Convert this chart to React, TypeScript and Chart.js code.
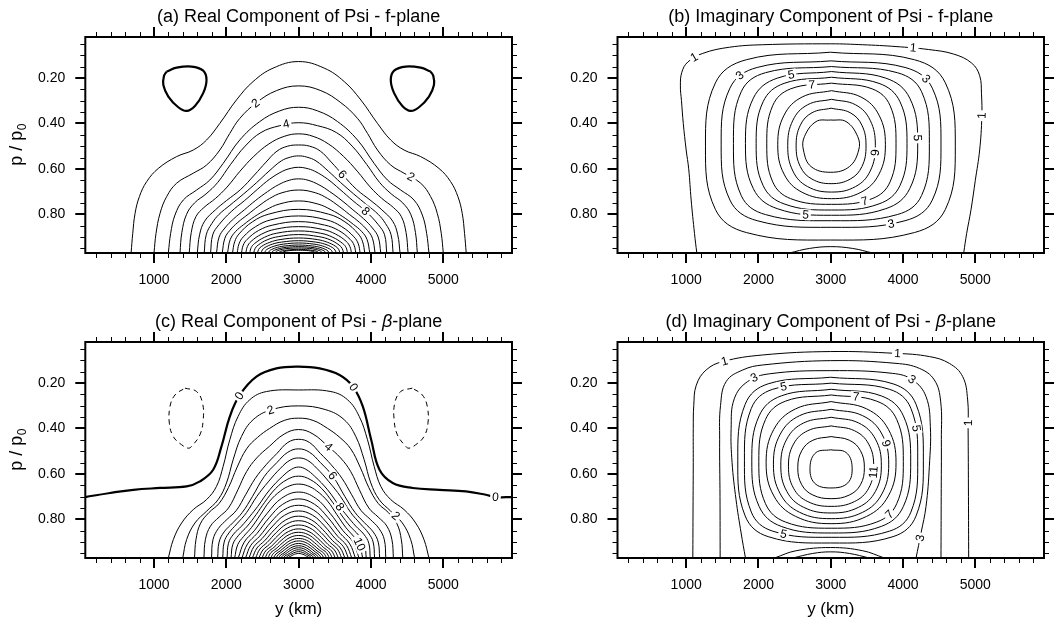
import { useEffect, useRef } from 'react';
import { Chart, registerables } from 'chart.js';

Chart.register(...registerables);

type Pt = [number, number];
type Lbl = [number, number, number];

const FONT = '"Liberation Sans", Arial, Helvetica, sans-serif';

// ---------- axes ----------
const Y_KM_MIN = 50;
const Y_KM_MAX = 5950;
const P_TOP = 0.02;
const P_BOTTOM = 0.97;
const xMajorTicks = [1000, 2000, 3000, 4000, 5000];
const xMinorTicks = [200, 400, 600, 800, 1200, 1400, 1600, 1800, 2200, 2400, 2600, 2800, 3200, 3400, 3600, 3800, 4200, 4400, 4600, 4800, 5200, 5400, 5600, 5800];
const pMajorTicks = [0.2, 0.4, 0.6, 0.8];
const pMinorTicks = [0.05, 0.1, 0.15, 0.25, 0.3, 0.35, 0.45, 0.5, 0.55, 0.65, 0.7, 0.75, 0.85, 0.9, 0.95];

// ---------- panel (a): real component, f-plane ----------
const a0Left: Pt[] = [[1175,.172],[1313,.155],[1520,.150],[1680,.168],[1726,.209],[1680,.267],[1566,.323],[1451,.345],[1336,.329],[1198,.282],[1129,.231],[1138,.191],[1175,.172]];
const a0Right: Pt[] = [[4825,.172],[4687,.155],[4480,.150],[4320,.168],[4274,.209],[4320,.267],[4434,.323],[4549,.345],[4664,.329],[4802,.282],[4871,.231],[4862,.191],[4825,.172]];
const aContours: Pt[][] = [
  [[683,.97],[706,.884],[738,.796],[798,.722],[899,.656],[1060,.598],[1313,.546],[1543,.517],[1727,.473],[1910,.400],[2140,.297],[2370,.216],[2646,.157],[3000,.128],[3354,.157],[3630,.216],[3860,.297],[4090,.400],[4273,.473],[4457,.517],[4687,.546],[4940,.598],[5101,.656],[5202,.722],[5262,.796],[5294,.884],[5317,.97]],
  [[1000,.97],[1028,.884],[1083,.796],[1175,.722],[1313,.663],[1543,.619],[1727,.583],[1910,.517],[2048,.444],[2186,.378],[2416,.309],[2692,.256],[3000,.235],[3308,.256],[3584,.309],[3814,.378],[3952,.444],[4090,.517],[4273,.583],[4457,.619],[4687,.663],[4825,.722],[4917,.796],[4972,.884],[5000,.97]],
  [[1198,.97],[1230,.884],[1290,.803],[1405,.737],[1589,.693],[1772,.649],[1956,.576],[2186,.473],[2462,.392],[2738,.345],[3000,.329],[3262,.345],[3538,.392],[3814,.473],[4044,.576],[4228,.649],[4411,.693],[4595,.737],[4710,.803],[4770,.884],[4802,.97]],
  [[1359,.97],[1385,.88],[1450,.80],[1560,.75],[1720,.71],[1880,.66],[2060,.58],[2260,.50],[2480,.44],[2740,.41],[3000,.397],[3260,.41],[3520,.44],[3740,.50],[3940,.58],[4120,.66],[4280,.71],[4440,.75],[4550,.80],[4615,.88],[4641,.97]],
  [[1487,.97],[1515,.88],[1580,.81],[1690,.77],[1850,.73],[2010,.68],[2190,.61],[2380,.545],[2590,.49],[2800,.457],[3000,.446],[3200,.457],[3410,.49],[3620,.545],[3810,.61],[3990,.68],[4150,.73],[4310,.77],[4420,.81],[4485,.88],[4513,.97]],
  [[1598,.97],[1630,.89],[1700,.83],[1850,.78],[2000,.74],[2200,.69],[2388,.627],[2550,.57],[2700,.522],[2850,.50],[3000,.495],[3150,.50],[3300,.522],[3450,.57],[3612,.627],[3800,.69],[4000,.74],[4150,.78],[4300,.83],[4370,.89],[4402,.97]],
  [[1694,.97],[1722,.89],[1800,.84],[1900,.80],[2050,.76],[2240,.71],[2420,.66],[2590,.61],[2760,.565],[2890,.548],[3000,.543],[3110,.548],[3240,.565],[3410,.61],[3580,.66],[3760,.71],[3950,.76],[4100,.80],[4200,.84],[4278,.89],[4306,.97]],
  [[1782,.97],[1812,.89],[1900,.845],[2067,.788],[2250,.74],[2430,.69],[2600,.645],[2780,.61],[2900,.597],[3000,.593],[3100,.597],[3220,.61],[3400,.645],[3570,.69],[3750,.74],[3933,.788],[4100,.845],[4188,.89],[4218,.97]],
  [[1864,.97],[1900,.90],[1980,.86],[2100,.82],[2250,.78],[2400,.74],[2570,.70],[2720,.67],[2870,.65],[3000,.644],[3130,.65],[3280,.67],[3430,.70],[3600,.74],[3750,.78],[3900,.82],[4020,.86],[4100,.90],[4136,.97]],
  [[1943,.97],[1980,.905],[2050,.87],[2160,.835],[2300,.80],[2440,.765],[2600,.73],[2770,.705],[3000,.693],[3230,.705],[3400,.73],[3560,.765],[3700,.80],[3840,.835],[3950,.87],[4020,.905],[4057,.97]],
  [[2016,.97],[2055,.91],[2130,.875],[2240,.845],[2390,.81],[2550,.78],[2730,.755],[3000,.741],[3270,.755],[3450,.78],[3610,.81],[3760,.845],[3870,.875],[3945,.91],[3984,.97]],
  [[2085,.97],[2115,.921],[2176,.886],[2360,.833],[2588,.799],[3000,.778],[3412,.799],[3640,.833],[3824,.886],[3885,.921],[3915,.97]],
  [[2150,.97],[2175,.930],[2235,.899],[2405,.854],[2617,.824],[3000,.807],[3383,.824],[3595,.854],[3765,.899],[3825,.930],[3850,.97]],
  [[2209,.97],[2233,.936],[2288,.910],[2446,.871],[2644,.847],[3000,.832],[3356,.847],[3554,.871],[3712,.910],[3767,.936],[3791,.97]],
  [[2269,.97],[2291,.942],[2342,.919],[2488,.887],[2671,.866],[3000,.854],[3329,.866],[3512,.887],[3658,.919],[3709,.942],[3731,.97]],
  [[2324,.97],[2344,.946],[2392,.928],[2527,.901],[2696,.883],[3000,.873],[3304,.883],[3473,.901],[3608,.928],[3656,.946],[3676,.97]],
  [[2379,.97],[2398,.950],[2441,.935],[2565,.912],[2721,.898],[3000,.889],[3279,.898],[3435,.912],[3559,.935],[3602,.950],[3621,.97]],
  [[2430,.97],[2447,.954],[2487,.941],[2601,.923],[2743,.911],[3000,.904],[3257,.911],[3399,.923],[3513,.941],[3553,.954],[3570,.97]],
  [[2481,.97],[2497,.957],[2533,.946],[2637,.931],[2766,.922],[3000,.916],[3234,.922],[3363,.931],[3467,.946],[3503,.957],[3519,.97]],
  [[2531,.97],[2545,.959],[2578,.951],[2672,.939],[2789,.931],[3000,.926],[3211,.931],[3328,.939],[3422,.951],[3455,.959],[3469,.97]],
  [[2582,.97],[2595,.961],[2624,.955],[2707,.945],[2812,.939],[3000,.935],[3188,.939],[3293,.945],[3376,.955],[3405,.961],[3418,.97]],
  [[2628,.97],[2639,.963],[2665,.958],[2740,.950],[2833,.945],[3000,.942],[3167,.945],[3260,.950],[3335,.958],[3361,.963],[3372,.97]],
  [[2674,.97],[2684,.965],[2707,.960],[2772,.954],[2853,.950],[3000,.948],[3147,.950],[3228,.954],[3293,.960],[3316,.965],[3326,.97]],
  [[2720,.97],[2748,.963],[2804,.959],[2874,.956],[3000,.954],[3126,.956],[3196,.959],[3252,.963],[3280,.97]],
  [[2766,.97],[2789,.965],[2836,.961],[2895,.959],[3000,.958],[3105,.959],[3164,.961],[3211,.965],[3234,.97]],
];
const aContourLevels = [1, 2, 3, 4, 5, 6, 7, 8, 9, 10, 11, 12, 13, 14, 15, 16, 17, 18, 19, 20, 21, 22, 23, 24, 25];
const aLabels: Lbl[] = [[2,2416,.319],[4,2830,.397],[6,3612,.627],[8,3933,.788],[2,4531,.649]];

// ---------- panel (b): imaginary component, f-plane ----------
const bContours: Pt[][] = [
  [[1147,.97],[1115,.884],[1069,.737],[1035,.60],[1000,.517],[960,.40],[935,.30],[920,.235],[940,.175],[1023,.130],[1230,.092],[1599,.065],[2060,.054],[3000,.050],[3442,.054],[3903,.062],[4350,.075],[4700,.095],[4950,.135],[5060,.190],[5085,.27],[5090,.37],[5060,.517],[5000,.65],[4940,.78],[4880,.884],[4839,.97]],
  [[2995,.087],[4158,.120],[4586,.222],[4723,.500],[4586,.778],[4158,.880],[2995,.913],[1832,.880],[1404,.778],[1267,.500],[1404,.222],[1832,.120],[2995,.087]],
  [[3005,.125],[4028,.154],[4405,.245],[4525,.491],[4405,.737],[4028,.828],[3005,.857],[1982,.828],[1605,.737],[1484,.491],[1605,.245],[1982,.154],[3005,.125]],
  [[3009,.150],[3921,.177],[4257,.261],[4364,.489],[4257,.717],[3921,.801],[3009,.828],[2097,.801],[1761,.717],[1654,.489],[1761,.261],[2097,.177],[3009,.150]],
  [[3011,.172],[3762,.201],[4093,.289],[4203,.488],[4093,.687],[3762,.775],[3011,.804],[2260,.775],[1929,.687],[1820,.488],[1929,.289],[2260,.201],[3011,.172]],
  [[3011,.197],[3668,.224],[3958,.305],[4055,.489],[3958,.673],[3668,.754],[3011,.781],[2354,.754],[2064,.673],[1968,.489],[2064,.305],[2354,.224],[3011,.197]],
  [[3009,.223],[3572,.248],[3821,.322],[3903,.49],[3821,.657],[3572,.731],[3009,.756],[2446,.731],[2197,.657],[2115,.49],[2197,.322],[2446,.248],[3009,.223]],
  [[3011,.256],[3418,.284],[3668,.364],[3756,.494],[3668,.623],[3418,.703],[3011,.731],[2604,.703],[2354,.623],[2267,.494],[2354,.364],[2604,.284],[3011,.256]],
  [[3011,.294],[3342,.318],[3545,.386],[3617,.498],[3545,.610],[3342,.678],[3011,.702],[2680,.678],[2477,.610],[2405,.498],[2477,.386],[2680,.318],[3011,.294]],
  [[3005,.333],[3269,.353],[3431,.408],[3488,.499],[3431,.590],[3269,.645],[3005,.665],[2741,.645],[2579,.590],[2521,.499],[2579,.408],[2741,.353],[3005,.333]],
  [[3000,.385],[3212,.392],[3373,.458],[3387,.517],[3258,.590],[3000,.615],[2728,.590],[2622,.517],[2636,.458],[2797,.392],[3000,.385]],
  [[2428,.97],[2705,.950],[3000,.942],[3304,.950],[3580,.97]],
];
const bContourLevels = [1, 2, 3, 4, 5, 6, 7, 8, 9, 10, 11, 2];
const bLabels: Lbl[] = [[1,1138,.121],[3,1737,.179],[5,2452,.172],[7,2728,.223],[1,4133,.069],[3,4341,.201],[1,5101,.363],[5,4226,.458],[9,3673,.532],[7,3442,.730],[5,2636,.807],[3,3857,.854]];

// ---------- panel (c): real component, beta-plane ----------
const cZero: Pt[] = [[50,.702],[393,.684],[715,.670],[1083,.662],[1451,.655],[1635,.633],[1818,.582],[1933,.479],[2048,.348],[2186,.253],[2416,.172],[2692,.136],[3000,.128],[3290,.136],[3566,.165],[3750,.216],[3888,.304],[4003,.450],[4118,.582],[4301,.640],[4577,.662],[4945,.670],[5313,.677],[5589,.692],[5727,.702],[5950,.702]];
const cNegLeft: Pt[] = [[1428,.223],[1589,.238],[1671,.289],[1680,.362],[1635,.428],[1520,.479],[1474,.487],[1382,.472],[1267,.436],[1212,.377],[1221,.304],[1290,.253],[1428,.223]];
const cNegRight: Pt[] = [[4572,.223],[4411,.238],[4329,.289],[4320,.362],[4365,.428],[4480,.479],[4526,.487],[4618,.472],[4733,.436],[4788,.377],[4779,.304],[4710,.253],[4572,.223]];
const cContours: Pt[][] = [
  [[1198,.97],[1267,.889],[1382,.816],[1543,.757],[1727,.713],[1864,.655],[1956,.567],[2048,.450],[2163,.347],[2324,.274],[2554,.238],[3000,.231],[3446,.238],[3676,.274],[3837,.347],[3952,.450],[4044,.567],[4136,.655],[4273,.713],[4457,.757],[4618,.816],[4733,.889],[4802,.97]],
  [[1397,.97],[1451,.889],[1566,.816],[1727,.764],[1887,.713],[2002,.640],[2094,.538],[2209,.436],[2370,.362],[2623,.318],[3000,.301],[3377,.318],[3630,.362],[3791,.436],[3906,.538],[3998,.640],[4113,.713],[4273,.764],[4434,.816],[4549,.889],[4603,.97]],
  [[1560,.97],[1580,.89],[1640,.82],[1760,.77],[1900,.73],[2030,.66],[2150,.57],[2280,.49],[2430,.44],[2600,.40],[2800,.365],[3000,.355],[3200,.365],[3400,.40],[3570,.44],[3720,.49],[3850,.57],[3970,.66],[4100,.73],[4240,.77],[4360,.82],[4420,.89],[4440,.97]],
  [[1690,.97],[1710,.89],[1780,.83],[1900,.79],[2030,.75],[2160,.67],[2280,.59],[2420,.53],[2595,.479],[2800,.425],[3000,.405],[3200,.425],[3405,.479],[3580,.53],[3720,.59],[3840,.67],[3970,.75],[4100,.79],[4220,.83],[4290,.89],[4310,.97]],
  [[1795,.97],[1815,.89],[1890,.84],[2010,.80],[2140,.76],[2270,.69],[2400,.62],[2550,.56],[2700,.51],[2850,.462],[3000,.448],[3150,.462],[3300,.51],[3450,.56],[3600,.62],[3730,.69],[3860,.76],[3990,.80],[4110,.84],[4185,.89],[4205,.97]],
  [[1880,.97],[1900,.90],[1970,.855],[2090,.815],[2220,.77],[2360,.70],[2526,.611],[2700,.55],[2850,.505],[3000,.49],[3150,.505],[3300,.55],[3474,.611],[3640,.70],[3780,.77],[3910,.815],[4030,.855],[4100,.90],[4120,.97]],
  [[1950,.97],[1970,.90],[2035,.86],[2145,.82],[2280,.77],[2420,.70],[2580,.635],[2750,.575],[2880,.54],[3000,.53],[3120,.54],[3250,.575],[3420,.635],[3580,.70],[3720,.77],[3855,.82],[3965,.86],[4030,.90],[4050,.97]],
  [[2010,.97],[2030,.905],[2100,.865],[2210,.83],[2330,.785],[2434,.743],[2600,.67],[2780,.61],[2900,.58],[3000,.57],[3100,.58],[3220,.61],[3400,.67],[3566,.743],[3670,.785],[3790,.83],[3900,.865],[3970,.905],[3990,.97]],
  [[2065,.97],[2090,.91],[2170,.87],[2290,.83],[2410,.78],[2530,.725],[2680,.665],[2840,.625],[3000,.61],[3160,.625],[3320,.665],[3470,.725],[3590,.78],[3710,.83],[3830,.87],[3910,.91],[3935,.97]],
  [[2115,.97],[2158,.911],[2240,.875],[2350,.835],[2470,.78],[2600,.72],[2750,.675],[2880,.652],[3000,.645],[3120,.652],[3250,.675],[3400,.72],[3530,.78],[3650,.835],[3760,.875],[3842,.911],[3885,.97]],
  [[2165,.97],[2248,.900],[2387,.850],[2566,.773],[2765,.707],[3000,.68],[3235,.707],[3434,.773],[3613,.850],[3752,.900],[3835,.97]],
  [[2215,.97],[2293,.908],[2424,.862],[2592,.793],[2779,.734],[3000,.71],[3221,.734],[3408,.793],[3576,.862],[3707,.908],[3785,.97]],
  [[2265,.97],[2339,.914],[2461,.874],[2618,.812],[2793,.759],[3000,.738],[3207,.759],[3382,.812],[3539,.874],[3661,.914],[3735,.97]],
  [[2313,.97],[2382,.920],[2496,.884],[2643,.829],[2806,.782],[3000,.763],[3194,.782],[3357,.829],[3504,.884],[3618,.920],[3687,.97]],
  [[2360,.97],[2424,.926],[2530,.894],[2667,.845],[2820,.803],[3000,.786],[3180,.803],[3333,.845],[3470,.894],[3576,.926],[3640,.97]],
  [[2405,.97],[2464,.931],[2563,.902],[2691,.858],[2832,.821],[3000,.806],[3168,.821],[3309,.858],[3437,.902],[3536,.931],[3595,.97]],
  [[2450,.97],[2505,.935],[2596,.910],[2714,.871],[2845,.838],[3000,.825],[3155,.838],[3286,.871],[3404,.910],[3495,.935],[3550,.97]],
  [[2493,.97],[2544,.939],[2628,.917],[2736,.883],[2857,.854],[3000,.842],[3143,.854],[3264,.883],[3372,.917],[3456,.939],[3507,.97]],
  [[2535,.97],[2581,.943],[2659,.923],[2758,.893],[2869,.867],[3000,.857],[3131,.867],[3242,.893],[3341,.923],[3419,.943],[3465,.97]],
  [[2575,.97],[2617,.946],[2688,.929],[2779,.903],[2880,.880],[3000,.871],[3120,.880],[3221,.903],[3312,.929],[3383,.946],[3425,.97]],
  [[2614,.97],[2653,.949],[2717,.934],[2799,.912],[2891,.892],[3000,.884],[3109,.892],[3201,.912],[3283,.934],[3347,.949],[3386,.97]],
  [[2652,.97],[2687,.952],[2745,.939],[2819,.919],[2902,.902],[3000,.895],[3098,.902],[3181,.919],[3255,.939],[3313,.952],[3348,.97]],
  [[2688,.97],[2719,.955],[2771,.943],[2838,.926],[2912,.912],[3000,.906],[3088,.912],[3162,.926],[3229,.943],[3281,.955],[3312,.97]],
  [[2723,.97],[2751,.957],[2797,.948],[2856,.933],[2922,.921],[3000,.916],[3078,.921],[3144,.933],[3203,.948],[3249,.957],[3277,.97]],
  [[2757,.97],[2781,.959],[2822,.951],[2874,.939],[2931,.929],[3000,.925],[3069,.929],[3126,.939],[3178,.951],[3219,.959],[3243,.97]],
  [[2790,.97],[2811,.961],[2846,.955],[2891,.946],[2941,.937],[3000,.934],[3059,.937],[3109,.946],[3154,.955],[3189,.961],[3210,.97]],
  [[2822,.97],[2840,.963],[2869,.958],[2907,.951],[2950,.945],[3000,.942],[3050,.945],[3093,.951],[3131,.958],[3160,.963],[3178,.97]],
  [[2853,.97],[2868,.965],[2892,.962],[2924,.956],[2959,.952],[3000,.95],[3041,.952],[3076,.956],[3108,.962],[3132,.965],[3147,.97]],
];
const cContourLevels = [1, 2, 3, 4, 5, 6, 7, 8, 9, 10, 11, 12, 13, 14, 15, 16, 17, 18, 19, 20, 21, 22, 23, 24, 25, 26, 27, 28];
const cLabels: Lbl[] = [[0,2186,.253],[0,3727,.223],[0,5727,.699],[2,2623,.333],[4,3405,.479],[6,3474,.611],[8,3566,.743],[10,3842,.911],[2,4301,.801]];

// ---------- panel (d): imaginary component, beta-plane ----------
const dContours: Pt[][] = [
  [[1092,.97],[1095,.75],[1098,.55],[1098,.40],[1105,.30],[1140,.21],[1276,.143],[1507,.106],[2060,.077],[3000,.062],[3903,.070],[4364,.084],[4640,.114],[4825,.172],[4894,.275],[4900,.40],[4905,.70],[4908,.97]],
  [[1470,.97],[1468,.70],[1463,.45],[1475,.30],[1553,.194],[1783,.143],[2060,.121],[3000,.102],[3903,.114],[4226,.136],[4433,.187],[4520,.28],[4530,.45],[4528,.70],[4525,.97]],
  [[1820,.97],[1760,.86],[1690,.714],[1635,.55],[1622,.40],[1665,.27],[1850,.194],[2150,.160],[3000,.146],[3857,.158],[4133,.187],[4318,.260],[4378,.392],[4364,.567],[4318,.743],[4249,.860],[4180,.97]],
  [[2998,.175],[3862,.204],[4180,.294],[4281,.540],[4180,.785],[3862,.876],[2998,.904],[2134,.876],[1816,.785],[1714,.540],[1816,.294],[2134,.204],[2998,.175]],
  [[3005,.201],[3812,.228],[4109,.312],[4203,.540],[4109,.768],[3812,.852],[3005,.879],[2198,.852],[1901,.768],[1806,.540],[1901,.312],[2198,.228],[3005,.201]],
  [[3007,.228],[3699,.257],[4005,.345],[4106,.544],[4005,.743],[3699,.831],[3007,.860],[2315,.831],[2009,.743],[1908,.544],[2009,.345],[2315,.257],[3007,.228]],
  [[3005,.253],[3635,.280],[3913,.361],[4004,.546],[3913,.731],[3635,.812],[3005,.839],[2375,.812],[2097,.731],[2005,.546],[2097,.361],[2375,.280],[3005,.253]],
  [[3005,.282],[3496,.314],[3797,.404],[3903,.551],[3797,.697],[3496,.787],[3005,.819],[2514,.787],[2213,.697],[2106,.551],[2213,.404],[2514,.314],[3005,.282]],
  [[3005,.316],[3441,.344],[3708,.425],[3802,.557],[3708,.688],[3441,.769],[3005,.797],[2569,.769],[2302,.688],[2207,.557],[2302,.425],[2569,.344],[3005,.316]],
  [[3005,.351],[3385,.376],[3618,.447],[3700,.562],[3618,.677],[3385,.747],[3005,.772],[2625,.747],[2392,.677],[2309,.562],[2392,.447],[2625,.376],[3005,.351]],
  [[3005,.389],[3327,.410],[3525,.469],[3594,.566],[3525,.663],[3327,.722],[3005,.743],[2683,.722],[2485,.663],[2415,.566],[2485,.469],[2683,.410],[3005,.389]],
  [[3005,.436],[3257,.452],[3411,.498],[3465,.573],[3411,.648],[3257,.693],[3005,.709],[2753,.693],[2599,.648],[2544,.573],[2599,.498],[2753,.452],[3005,.436]],
  [[3000,.494],[3212,.506],[3295,.567],[3235,.640],[3000,.662],[2774,.640],[2714,.567],[2797,.506],[3000,.494]],
  [[2221,.97],[2521,.938],[3000,.924],[3442,.938],[3742,.97]],
  [[2475,.97],[2751,.950],[3000,.943],[3258,.950],[3534,.97]],
];
const dContourLevels = [1, 2, 3, 4, 5, 6, 7, 8, 9, 10, 11, 12, 13, 4, 3];
const dLabels: Lbl[] = [[1,1530,.106],[1,3926,.077],[1,4908,.377],[3,1945,.180],[3,4133,.187],[5,2359,.209],[7,3350,.253],[5,4203,.399],[9,3788,.465],[11,3604,.596],[7,3788,.772],[5,2336,.874],[3,4272,.882]];

// ---------- layout ----------
const PANEL_W = 529;
const PANEL_H = 312;
const Y_AXIS_W = 70;
const X_AXIS_H = 40;

interface PanelDef {
  key: string;
  left: number;
  top: number;
  area: { l: number; r: number; t: number; b: number };
  title: [string, boolean][];
  lines: Pt[][];
  levels: number[];
  labels: Lbl[];
  yTitle: boolean;
  xTitle: boolean;
}

const panels: PanelDef[] = [
  {
    key: 'a', left: 0, top: 0, area: { l: 85.3, r: 512, t: 37, b: 253 },
    title: [['(a) Real Component of Psi - f-plane', false]],
    lines: [a0Left, a0Right, ...aContours], levels: [0, 0, ...aContourLevels], labels: aLabels,
    yTitle: true, xTitle: false,
  },
  {
    key: 'b', left: 529, top: 0, area: { l: 88.5, r: 515, t: 37, b: 253 },
    title: [['(b) Imaginary Component of Psi - f-plane', false]],
    lines: bContours, levels: bContourLevels, labels: bLabels,
    yTitle: false, xTitle: false,
  },
  {
    key: 'c', left: 0, top: 312, area: { l: 85.3, r: 512, t: 30, b: 246 },
    title: [['(c) Real Component of Psi - ', false], ['\u03B2', true], ['-plane', false]],
    lines: [cZero, cNegLeft, cNegRight, ...cContours], levels: [0, -1, -1, ...cContourLevels], labels: cLabels,
    yTitle: true, xTitle: true,
  },
  {
    key: 'd', left: 529, top: 312, area: { l: 88.5, r: 515, t: 30, b: 246 },
    title: [['(d) Imaginary Component of Psi - ', false], ['\u03B2', true], ['-plane', false]],
    lines: dContours, levels: dContourLevels, labels: dLabels,
    yTitle: false, xTitle: true,
  },
];

function drawLabels(chart: any, def: PanelDef) {
  const ctx: CanvasRenderingContext2D = chart.ctx;
  const xs = chart.scales.x;
  const ys = chart.scales.y;
  ctx.save();
  ctx.font = `12px ${FONT}`;
  ctx.textAlign = 'center';
  ctx.textBaseline = 'middle';
  for (const [v, km, p] of def.labels) {
    const tx = xs.getPixelForValue(km);
    const ty = ys.getPixelForValue(p);
    let best = Infinity;
    let bx = tx;
    let by = ty;
    let ang = 0;
    def.levels.forEach((lv, i) => {
      if (lv !== v) return;
      const pts: any[] = chart.getDatasetMeta(i).data;
      for (let j = 0; j < pts.length - 1; j++) {
        const a = pts[j];
        const b = pts[j + 1];
        const c1x = a.cp2x ?? a.x;
        const c1y = a.cp2y ?? a.y;
        const c2x = b.cp1x ?? b.x;
        const c2y = b.cp1y ?? b.y;
        let px = a.x;
        let py = a.y;
        for (let k = 1; k <= 14; k++) {
          const t = k / 14;
          const u = 1 - t;
          const x = u * u * u * a.x + 3 * u * u * t * c1x + 3 * u * t * t * c2x + t * t * t * b.x;
          const y = u * u * u * a.y + 3 * u * u * t * c1y + 3 * u * t * t * c2y + t * t * t * b.y;
          const mx = (x + px) / 2;
          const my = (y + py) / 2;
          const d = (mx - tx) ** 2 + (my - ty) ** 2;
          if (d < best) {
            best = d;
            bx = mx;
            by = my;
            ang = Math.atan2(y - py, x - px);
          }
          px = x;
          py = y;
        }
      }
    });
    if (ang > Math.PI / 2) ang -= Math.PI;
    if (ang < -Math.PI / 2) ang += Math.PI;
    const txt = String(v);
    const w = ctx.measureText(txt).width;
    ctx.save();
    ctx.translate(bx, by);
    ctx.rotate(ang);
    ctx.fillStyle = '#fff';
    ctx.fillRect(-w / 2 - 2, -5.5, w + 4, 11);
    ctx.fillStyle = '#000';
    ctx.fillText(txt, 0, 0.5);
    ctx.restore();
  }
  ctx.restore();
}

function drawFrame(chart: any, def: PanelDef) {
  const ctx: CanvasRenderingContext2D = chart.ctx;
  const { left, right, top, bottom } = chart.chartArea;
  const xs = chart.scales.x;
  const ys = chart.scales.y;
  const MINOR = 5;
  const MAJOR = 10;
  ctx.save();
  ctx.strokeStyle = '#000';
  ctx.lineWidth = 1;
  ctx.beginPath();
  for (const v of xMinorTicks) {
    const x = Math.round(xs.getPixelForValue(v)) + 0.5;
    ctx.moveTo(x, bottom); ctx.lineTo(x, bottom + MINOR);
    ctx.moveTo(x, top); ctx.lineTo(x, top - MINOR);
  }
  for (const v of pMinorTicks) {
    const y = Math.round(ys.getPixelForValue(v)) + 0.5;
    ctx.moveTo(left, y); ctx.lineTo(left - MINOR, y);
    ctx.moveTo(right, y); ctx.lineTo(right + MINOR, y);
  }
  ctx.stroke();
  ctx.lineWidth = 2;
  ctx.beginPath();
  for (const v of xMajorTicks) {
    const x = Math.round(xs.getPixelForValue(v));
    ctx.moveTo(x, bottom); ctx.lineTo(x, bottom + MAJOR);
    ctx.moveTo(x, top); ctx.lineTo(x, top - MAJOR);
  }
  for (const v of pMajorTicks) {
    const y = Math.round(ys.getPixelForValue(v));
    ctx.moveTo(left, y); ctx.lineTo(left - MAJOR, y);
    ctx.moveTo(right, y); ctx.lineTo(right + MAJOR, y);
  }
  ctx.stroke();
  ctx.lineWidth = 2;
  ctx.strokeRect(left, top, right - left, bottom - top);

  // panel title
  ctx.fillStyle = '#000';
  ctx.textBaseline = 'alphabetic';
  ctx.textAlign = 'left';
  const fontFor = (it: boolean) => `${it ? 'italic ' : ''}18px ${FONT}`;
  let total = 0;
  for (const [s, it] of def.title) {
    ctx.font = fontFor(it);
    total += ctx.measureText(s).width;
  }
  let x0 = (left + right) / 2 - total / 2;
  for (const [s, it] of def.title) {
    ctx.font = fontFor(it);
    ctx.fillText(s, x0, top - 15.5);
    x0 += ctx.measureText(s).width;
  }

  // y axis title p / p0
  if (def.yTitle) {
    ctx.save();
    ctx.translate(21.5, (top + bottom) / 2);
    ctx.rotate(-Math.PI / 2);
    ctx.font = `18px ${FONT}`;
    const main = 'p / p';
    const wMain = ctx.measureText(main).width;
    ctx.font = `12px ${FONT}`;
    const wSub = ctx.measureText('0').width;
    const start = -(wMain + wSub) / 2;
    ctx.font = `18px ${FONT}`;
    ctx.fillText(main, start, 0);
    ctx.font = `12px ${FONT}`;
    ctx.fillText('0', start + wMain + 0.5, 4);
    ctx.restore();
  }
  // x axis title
  if (def.xTitle) {
    ctx.font = `17px ${FONT}`;
    ctx.textAlign = 'center';
    ctx.fillText('y (km)', (left + right) / 2, bottom + 56);
  }
  ctx.restore();
}

function Panel({ def }: { def: PanelDef }) {
  const ref = useRef<HTMLCanvasElement | null>(null);
  useEffect(() => {
    const canvas = ref.current;
    if (!canvas) return;
    const { area } = def;
    const datasets = def.lines.map((pts, i) => {
      const lv = def.levels[i];
      return {
        data: pts.map(([x, y]) => ({ x, y })),
        showLine: true,
        borderColor: '#000',
        borderWidth: lv === 0 ? 2.2 : 1,
        borderDash: lv < 0 ? [5, 4] : [],
        pointRadius: 0,
        pointHoverRadius: 0,
        tension: 0.4,
        fill: false,
      };
    });
    const chart = new Chart(canvas, {
      type: 'scatter',
      data: { datasets } as any,
      options: {
        animation: false,
        responsive: false,
        maintainAspectRatio: false,
        events: [],
        layout: {
          padding: {
            left: area.l - Y_AXIS_W,
            right: PANEL_W - area.r,
            top: area.t,
            bottom: PANEL_H - area.b - X_AXIS_H,
          },
        },
        plugins: {
          legend: { display: false },
          tooltip: { enabled: false },
          title: { display: false },
        },
        scales: {
          x: {
            type: 'linear',
            min: Y_KM_MIN,
            max: Y_KM_MAX,
            grid: { display: false, drawTicks: false },
            border: { display: false },
            afterBuildTicks: (s: any) => { s.ticks = xMajorTicks.map((v) => ({ value: v })); },
            afterFit: (s: any) => { s.height = X_AXIS_H; },
            ticks: {
              font: { family: FONT, size: 14 },
              color: '#000',
              padding: 19,
              maxRotation: 0,
              autoSkip: false,
              callback: (v: any) => String(v),
            },
          },
          y: {
            type: 'linear',
            reverse: true,
            min: P_TOP,
            max: P_BOTTOM,
            grid: { display: false, drawTicks: false },
            border: { display: false },
            afterBuildTicks: (s: any) => { s.ticks = pMajorTicks.map((v) => ({ value: v })); },
            afterFit: (s: any) => { s.width = Y_AXIS_W; },
            ticks: {
              font: { family: FONT, size: 14 },
              color: '#000',
              padding: 20,
              autoSkip: false,
              callback: (v: any) => Number(v).toFixed(2),
            },
          },
        },
      } as any,
      plugins: [
        {
          id: 'decor-' + def.key,
          afterDatasetsDraw: (c: any) => drawLabels(c, def),
          afterDraw: (c: any) => drawFrame(c, def),
        },
      ],
    });
    return () => chart.destroy();
  }, [def]);
  return (
    <canvas
      ref={ref}
      width={PANEL_W}
      height={PANEL_H}
      style={{ position: 'absolute', left: def.left, top: def.top, width: PANEL_W, height: PANEL_H }}
    />
  );
}

export default function App() {
  return (
    <div style={{ position: 'fixed', left: 0, top: 0, width: 1058, height: 624, background: '#fff', overflow: 'hidden' }}>
      {panels.map((p) => (
        <Panel key={p.key} def={p} />
      ))}
    </div>
  );
}
